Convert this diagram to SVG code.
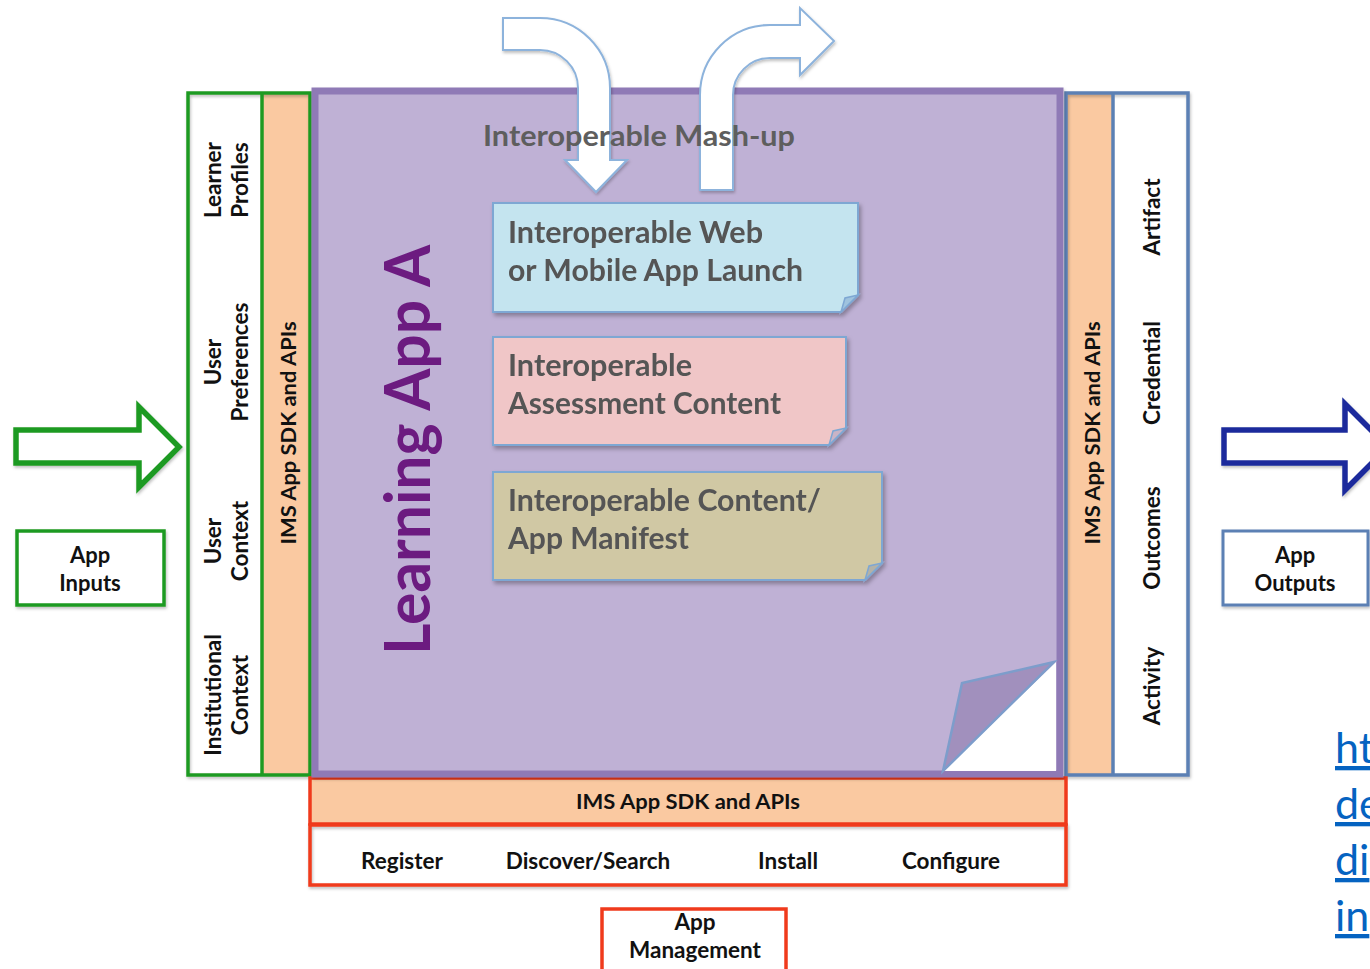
<svg xmlns="http://www.w3.org/2000/svg" width="1370" height="969" viewBox="0 0 1370 969">
<defs>
<filter id="sh" x="-10%" y="-10%" width="130%" height="130%">
<feDropShadow dx="2" dy="3" stdDeviation="2" flood-color="#000" flood-opacity="0.3"/>
</filter>
<filter id="sh2" x="-10%" y="-10%" width="130%" height="130%">
<feDropShadow dx="1" dy="2" stdDeviation="1.5" flood-color="#000" flood-opacity="0.25"/>
</filter>
</defs>
<style>
text{font-family:Lato,"Liberation Sans",sans-serif;font-weight:bold;fill:#111}
.lbl{font-size:22.5px;text-anchor:middle}
.sdk{font-size:21px;text-anchor:middle}
.box{font-size:29.5px;fill:#555}
.wh{fill:#fff}
.org{fill:#fac9a1}
.g{stroke:#1f9a22;stroke-width:3.5;fill:none}
.b{stroke:#5b80b4;stroke-width:3.5;fill:none}
.r{stroke:#f03a1c;stroke-width:3.5;fill:none}
.url{font-family:Lato,"Open Sans",sans-serif;font-weight:normal;font-size:43px;fill:#0563c1;text-decoration:underline}
</style>
<rect width="1370" height="969" fill="#fff"/>

<!-- left input column -->
<g id="inputs-col">
<rect x="188" y="93" width="74" height="682" class="wh"/>
<rect x="262" y="93" width="48" height="682" class="org"/>
<rect x="188" y="93" width="122" height="682" class="g" filter="url(#sh2)"/>
<line x1="262" y1="93" x2="262" y2="775" class="g"/>
<text class="lbl" transform="translate(221,180) rotate(-90)">Learner<tspan x="0" dy="27">Profiles</tspan></text>
<text class="lbl" transform="translate(221,362) rotate(-90)">User<tspan x="0" dy="27">Preferences</tspan></text>
<text class="lbl" transform="translate(221,541) rotate(-90)">User<tspan x="0" dy="27">Context</tspan></text>
<text class="lbl" transform="translate(221,695) rotate(-90)">Institutional<tspan x="0" dy="27">Context</tspan></text>
<text class="sdk" transform="translate(296,433) rotate(-90)" textLength="223" lengthAdjust="spacingAndGlyphs">IMS App SDK and APIs</text>
</g>

<!-- right output column -->
<g id="outputs-col">
<rect x="1066" y="93" width="47" height="682" class="org"/>
<rect x="1113" y="93" width="75" height="682" class="wh"/>
<rect x="1066" y="93" width="122" height="682" class="b" filter="url(#sh2)"/>
<line x1="1113" y1="93" x2="1113" y2="775" class="b"/>
<text class="sdk" transform="translate(1100,433) rotate(-90)" textLength="223" lengthAdjust="spacingAndGlyphs">IMS App SDK and APIs</text>
<text class="lbl" transform="translate(1160,217) rotate(-90)">Artifact</text>
<text class="lbl" transform="translate(1160,373) rotate(-90)">Credential</text>
<text class="lbl" transform="translate(1160,538) rotate(-90)">Outcomes</text>
<text class="lbl" transform="translate(1160,686) rotate(-90)">Activity</text>
</g>

<!-- bottom management -->
<g id="management">
<rect x="310" y="778" width="756" height="46" class="org"/>
<rect x="310" y="778" width="756" height="46" class="r"/>
<rect x="310" y="825" width="756" height="60" class="wh"/>
<rect x="310" y="825" width="756" height="60" class="r" filter="url(#sh2)"/>
<text class="sdk" x="688" y="809" textLength="224" lengthAdjust="spacingAndGlyphs">IMS App SDK and APIs</text>
<text class="lbl" x="402" y="869">Register</text>
<text class="lbl" x="588" y="869">Discover/Search</text>
<text class="lbl" x="788" y="869">Install</text>
<text class="lbl" x="951" y="869">Configure</text>
</g>

<g id="app-management">
<rect x="602" y="909" width="184" height="70" class="wh"/>
<rect x="602" y="909" width="184" height="70" class="r"/>
<text class="lbl" x="695" y="930">App</text>
<text class="lbl" x="695" y="958">Management</text>
</g>

<!-- learning app main box -->
<g id="learning-app">
<rect x="315" y="91" width="745" height="683" fill="#bfb1d5" stroke="#8f7ab6" stroke-width="7" filter="url(#sh2)"/>
<polygon points="943,771 1056,662 1056,771" fill="#fff"/>
<polygon points="943,771 962,683 1054,662" fill="#a190bd" stroke="#7d9dcb" stroke-width="2.5"/>
<text transform="translate(430,450) rotate(-90)" text-anchor="middle" font-size="63" textLength="410" lengthAdjust="spacingAndGlyphs" style="fill:#6c1b80">Learning App A</text>
</g>

<!-- inner content boxes -->
<g id="web-launch" filter="url(#sh)">
<path d="M493,203 H858 V295 L841,312 H493 Z" fill="#c4e4ef" stroke="#7ea7d3" stroke-width="2"/>
<polygon points="841,312 845,298 858,295" fill="#9fc3de" stroke="#7ea7d3" stroke-width="1.5"/>
<text class="box" x="508" y="243" textLength="255" lengthAdjust="spacingAndGlyphs">Interoperable Web</text>
<text class="box" x="508" y="281" textLength="295" lengthAdjust="spacingAndGlyphs">or Mobile App Launch</text>
</g>
<g id="assessment" filter="url(#sh)">
<path d="M493,337 H846 V428 L829,445 H493 Z" fill="#f0c6c7" stroke="#7ea7d3" stroke-width="2"/>
<polygon points="829,445 833,431 846,428" fill="#c9b4c6" stroke="#7ea7d3" stroke-width="1.5"/>
<text class="box" x="508" y="376" textLength="184" lengthAdjust="spacingAndGlyphs">Interoperable</text>
<text class="box" x="508" y="414" textLength="273" lengthAdjust="spacingAndGlyphs">Assessment Content</text>
</g>
<g id="manifest" filter="url(#sh)">
<path d="M493,472 H882 V563 L865,580 H493 Z" fill="#d0c8a4" stroke="#7ea7d3" stroke-width="2"/>
<polygon points="865,580 869,566 882,563" fill="#b3b2a8" stroke="#7ea7d3" stroke-width="1.5"/>
<text class="box" x="508" y="511" textLength="313" lengthAdjust="spacingAndGlyphs">Interoperable Content/</text>
<text class="box" x="508" y="549" textLength="181" lengthAdjust="spacingAndGlyphs">App Manifest</text>
</g>

<!-- connectors -->
<g id="connectors">
<path d="M503,18 H540 A70,70 0 0 1 610,88 V160 H627 L596,192 L565,160 H578 V88 A38,38 0 0 0 540,50 H503 Z" fill="#fff" stroke="#8db3dc" stroke-width="2" filter="url(#sh2)"/>
<path d="M700,190 V95 A70,70 0 0 1 770,25 H800 V8 L834,41 L800,75 V58 H770 A37,37 0 0 0 733,95 V190 Z" fill="#fff" stroke="#8db3dc" stroke-width="2" filter="url(#sh2)"/>
<path d="M16,430 H139 V407 L179,447 L139,487 V463 H16 Z" fill="#fff" stroke="#1f9a22" stroke-width="5.5" filter="url(#sh2)"/>
<path d="M1224,430 H1345 V404 L1388,447 L1345,490 V463 H1224 Z" fill="#fff" stroke="#1c2c9c" stroke-width="5.5" filter="url(#sh2)"/>
</g>

<text id="mashup" x="483" y="146" textLength="312" lengthAdjust="spacingAndGlyphs" style="font-size:29px;fill:#5e5e5e">Interoperable Mash-up</text>

<g id="app-inputs">
<rect x="17" y="531" width="147" height="74" fill="#fff" stroke="#1f9a22" stroke-width="3.5" filter="url(#sh2)"/>
<text class="lbl" x="90" y="563" style="font-size:22px">App</text>
<text class="lbl" x="90" y="591" style="font-size:22px">Inputs</text>
</g>
<g id="app-outputs">
<rect x="1223" y="531" width="145" height="74" fill="#fff" stroke="#5b80b4" stroke-width="3" filter="url(#sh2)"/>
<text class="lbl" x="1295" y="563" style="font-size:22px">App</text>
<text class="lbl" x="1295" y="591" style="font-size:22px">Outputs</text>
</g>

<g id="link">
<text class="url" x="1335" y="763">ht</text>
<text class="url" x="1335" y="819">de</text>
<text class="url" x="1335" y="875">di</text>
<text class="url" x="1335" y="931">in</text>
</g>
</svg>
